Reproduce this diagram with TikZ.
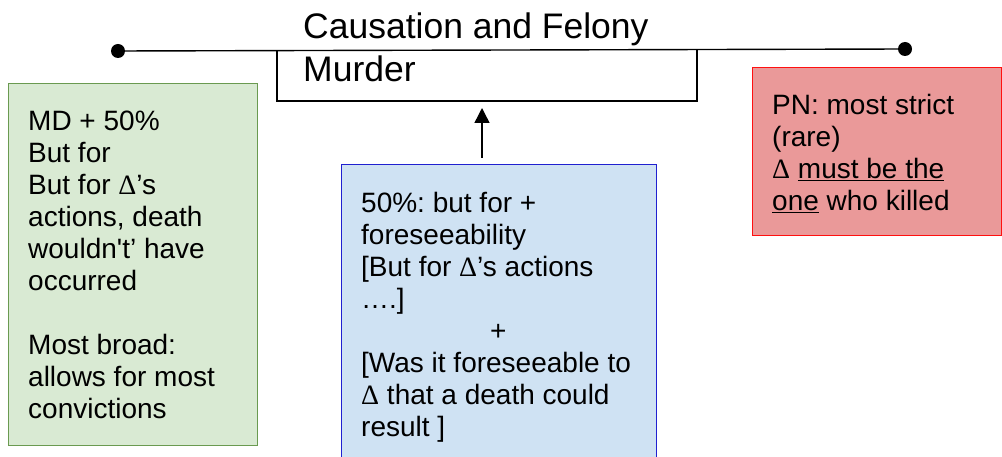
\documentclass[tikz,border=0pt]{standalone}
\usepackage{fontspec}
\setmainfont{Liberation Sans}[Ligatures=TeXOff]
\newfontfamily\dfont{Liberation Serif}
\usetikzlibrary{arrows.meta}
\definecolor{gfill}{HTML}{D9EAD3}
\definecolor{gdraw}{HTML}{6A9A50}
\definecolor{bfill}{HTML}{CFE2F3}
\definecolor{bdraw}{HTML}{2020D0}
\definecolor{rfill}{HTML}{EA9999}
\definecolor{rdraw}{HTML}{FF1010}
\newcommand{\D}{{\dfont Δ}}
\frenchspacing
\begin{document}
\begin{tikzpicture}[x=1pt,y=-1pt,
  box/.style={line width=1.4pt,anchor=north west,inner sep=0pt},
  txt/.style={anchor=north west,align=left,inner sep=0pt,font=\fontsize{28}{32}\selectfont},
  dot/.style={circle,fill=black,inner sep=0pt,minimum size=14pt}]
\clip (0,0) rectangle (1002,457);
\fill[white] (0,0) rectangle (1002,457);
% top line
\node[dot] (l) at (118,51) {};
\node[dot] (r) at (905,49) {};
\draw[line width=1.4pt] (l) -- (r);
% title box
\draw[line width=1.4pt] (277,50.8) -- (277,101) -- (697,101) -- (697,50);
\coordinate (tb) at (482,101);
\node[anchor=north west,align=left,inner sep=0pt,font=\fontsize{35.5}{43}\selectfont] (title) at (303,13)
  {Causation and Felony\\Murder};
% green box
\node[box,draw=gdraw,fill=gfill,minimum width=249pt,minimum height=362pt] (g) at (8,83) {};
\node[txt] (gt) at (28,111)
  {MD + 50\%\\But for\\But for \D’s\\actions, death\\wouldn't’ have\\occurred\\[32pt]Most broad:\\allows for most\\convictions};
% blue box
\node[box,draw=bdraw,fill=bfill,minimum width=315pt,minimum height=310pt] (b) at (341,164) {};
\node[txt] (bt) at (361,192)
  {50\%: but for +\\foreseeability\\{}[But for \D’s actions\\….]\\\hspace*{129pt}+\\{}[Was it foreseeable to\\\D{} that a death could\\result ]};
% red box
\node[box,draw=rdraw,fill=rfill,minimum width=249pt,minimum height=168pt] (rb) at (752,67) {};
\node[txt] (rt) at (772,94)
  {PN: most strict\\(rare)\\\D{} \underline{must be the}\\\underline{one} who killed};
% arrow
\draw[line width=1.4pt,-{Triangle[length=15pt,width=15pt]}] (b.north -| tb) ++(0,-6) -- ([yshift=-7pt]tb);
\end{tikzpicture}
\end{document}
